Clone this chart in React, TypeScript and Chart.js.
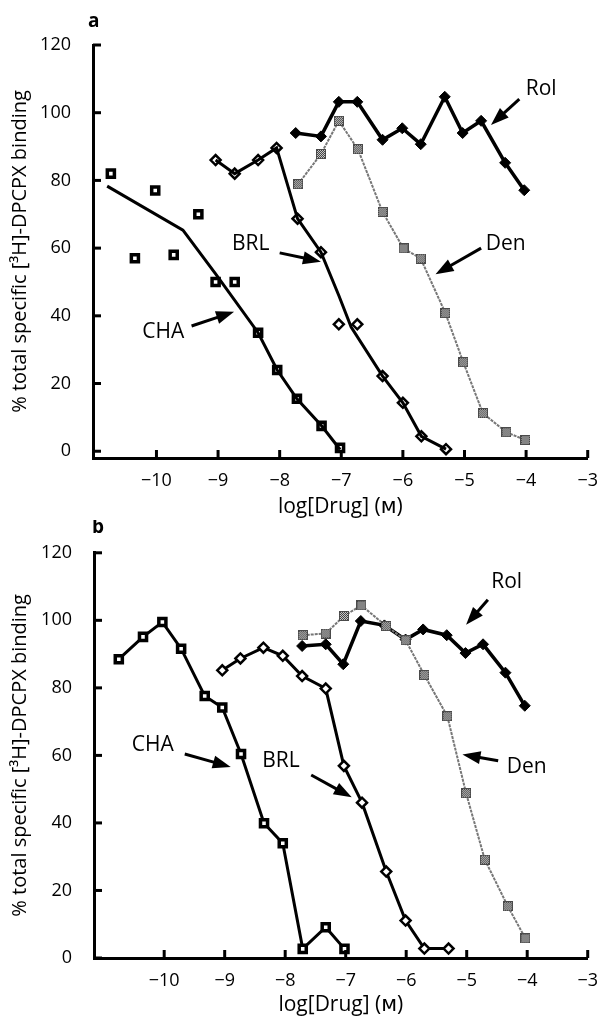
import React, { useEffect, useRef } from "react";
import { Chart, registerables } from "chart.js";

Chart.register(...registerables);

const FONT = "'Open Sans', 'DejaVu Sans', sans-serif";
const X_TICKS = [-10, -9, -8, -7, -6, -5, -4, -3];
const Y_TICKS = [0, 20, 40, 60, 80, 100, 120];
const X_TITLE = "log[Drug] (\u1D0D)";
const Y_TITLE = "% total specific [\u00B3H]-DPCPX binding";

// ---------- Panel a ----------
const A_CHA_X = [-10.74, -10.35, -10.02, -9.72, -9.32, -9.04, -8.73, -8.35, -8.04, -7.72, -7.32, -7.02];
const A_CHA_Y = [82, 57, 77, 58, 70, 50, 50, 35, 24, 15.5, 7.5, 1];
const A_CHA_FIT_X = [-10.8, -9.57, -9.04, -8.35, -8.04, -7.72, -7.32, -7.02];
const A_CHA_FIT_Y = [78.3, 65.3, 52.4, 35, 24, 15.5, 7.5, 0.5];

const A_BRL_X = [-9.04, -8.73, -8.35, -8.05, -7.71, -7.33, -7.04, -6.74, -6.33, -6.0, -5.7, -5.3];
const A_BRL_Y = [86, 82, 86, 89.6, 68.7, 58.8, 37.5, 37.5, 22.2, 14.3, 4.4, 0.6];
const A_BRL_FIT_X = [-9.04, -8.73, -8.35, -8.05, -7.71, -7.33, -7.04, -6.84, -6.33, -6.0, -5.7, -5.3];
const A_BRL_FIT_Y = [86, 82, 86, 89.6, 68.7, 58.8, 46, 36.7, 22.2, 14.3, 4.4, 0.6];

const A_ROL_X = [-7.74, -7.33, -7.04, -6.74, -6.33, -6.01, -5.71, -5.32, -5.03, -4.73, -4.34, -4.03];
const A_ROL_Y = [94, 93, 103.2, 103.2, 92, 95.4, 90.7, 104.7, 94, 97.6, 85.2, 77.1];

const A_DEN_X = [-7.7, -7.33, -7.04, -6.73, -6.33, -5.99, -5.71, -5.31, -5.02, -4.7, -4.32, -4.01];
const A_DEN_Y = [78.9, 87.8, 97.6, 89.2, 70.7, 59.9, 56.9, 40.8, 26.3, 11.2, 5.6, 3.3];

// ---------- Panel b ----------
const B_CHA_X = [-10.75, -10.35, -10.03, -9.72, -9.33, -9.04, -8.73, -8.35, -8.04, -7.71, -7.33, -7.02];
const B_CHA_Y = [88.5, 95.1, 99.5, 91.6, 77.6, 74.2, 60.4, 39.9, 34.0, 2.7, 9.1, 2.7];

const B_BRL_X = [-9.04, -8.74, -8.36, -8.04, -7.72, -7.33, -7.03, -6.73, -6.33, -6.01, -5.7, -5.3];
const B_BRL_Y = [85.2, 88.7, 91.9, 89.5, 83.5, 79.8, 56.9, 46.0, 25.6, 11.1, 2.8, 2.8];

const B_ROL_X = [-7.72, -7.33, -7.04, -6.75, -6.36, -6.01, -5.72, -5.33, -5.02, -4.73, -4.36, -4.04];
const B_ROL_Y = [92.4, 92.9, 87.0, 99.8, 98.5, 94.3, 97.3, 95.6, 90.3, 92.9, 84.5, 74.7];

const B_DEN_X = [-7.71, -7.33, -7.03, -6.74, -6.33, -6.01, -5.7, -5.32, -5.01, -4.7, -4.32, -4.03];
const B_DEN_Y = [95.6, 96.1, 101.3, 104.4, 98.3, 94.1, 83.8, 71.6, 48.8, 29.1, 15.3, 5.8];

// Annotation labels [text, textX, textY, arrowFromX, arrowFromY, arrowTipX, arrowTipY] in data units
const A_NOTES: [string, number, number, number, number, number, number][] = [
  ["Rol", -3.755, 107.0, -4.11, 104.0, -4.57, 96.4],
  ["Den", -4.33, 61.2, -4.73, 60.0, -5.47, 52.3],
  ["BRL", -8.47, 61.2, -8.0, 58.6, -7.33, 56.0],
  ["CHA", -9.89, 35.2, -9.43, 37.0, -8.74, 41.2],
];
const B_NOTES: [string, number, number, number, number, number, number][] = [
  ["Rol", -4.34, 111.4, -4.65, 106.1, -5.01, 98.7],
  ["CHA", -10.19, 63.0, -9.66, 60.4, -8.9, 56.6],
  ["BRL", -8.07, 58.3, -7.57, 54.2, -6.9, 47.6],
  ["Den", -4.01, 56.5, -4.48, 58.4, -5.07, 60.3],
];

const pts = (xs: number[], ys: number[]) => xs.map((x, i) => ({ x, y: ys[i] }));

function makeDenMarker() {
  const c = document.createElement("canvas");
  c.width = 10;
  c.height = 10;
  const g = c.getContext("2d")!;
  g.fillStyle = "#cfcfcf";
  g.fillRect(0, 0, 10, 10);
  g.fillStyle = "#3c3c3c";
  for (let i = 0; i < 10; i++)
    for (let j = 0; j < 10; j++) if ((i + j) % 2 === 0) g.fillRect(i, j, 1, 1);
  g.strokeStyle = "#4a4a4a";
  g.lineWidth = 1;
  g.strokeRect(0.5, 0.5, 9, 9);
  return c;
}

function drawArrow(ctx: CanvasRenderingContext2D, x1: number, y1: number, x2: number, y2: number) {
  const ang = Math.atan2(y2 - y1, x2 - x1);
  const head = 18;
  const hw = 6.5;
  const bx = x2 - head * Math.cos(ang);
  const by = y2 - head * Math.sin(ang);
  ctx.lineWidth = 3;
  ctx.beginPath();
  ctx.moveTo(x1, y1);
  ctx.lineTo(bx + Math.cos(ang) * 2, by + Math.sin(ang) * 2);
  ctx.stroke();
  ctx.beginPath();
  ctx.moveTo(x2, y2);
  ctx.lineTo(bx + hw * Math.sin(ang), by - hw * Math.cos(ang));
  ctx.lineTo(bx - hw * Math.sin(ang), by + hw * Math.cos(ang));
  ctx.closePath();
  ctx.fill();
}

const decorPlugin = {
  id: "decor",
  afterDraw(chart: any, _args: any, opts: any) {
    const { ctx, chartArea } = chart;
    const x = chart.scales.x;
    const y = chart.scales.y;
    ctx.save();
    ctx.strokeStyle = "#000";
    ctx.fillStyle = "#000";
    ctx.lineWidth = 3;
    for (const v of X_TICKS) {
      const px = x.getPixelForValue(v);
      ctx.beginPath();
      ctx.moveTo(px, chartArea.bottom);
      ctx.lineTo(px, chartArea.bottom - 8);
      ctx.stroke();
    }
    for (const v of Y_TICKS) {
      const py = y.getPixelForValue(v);
      ctx.beginPath();
      ctx.moveTo(chartArea.left, py);
      ctx.lineTo(chartArea.left + 8, py);
      ctx.stroke();
    }
    ctx.font = `bold 19px ${FONT}`;
    ctx.textAlign = "left";
    ctx.textBaseline = "alphabetic";
    ctx.fillText(opts.letter, opts.letterX, opts.letterY);
    ctx.font = `21px ${FONT}`;
    ctx.textAlign = "center";
    ctx.textBaseline = "middle";
    for (const n of opts.notes as [string, number, number, number, number, number, number][]) {
      ctx.fillText(n[0], x.getPixelForValue(n[1]), y.getPixelForValue(n[2]));
      drawArrow(
        ctx,
        x.getPixelForValue(n[3]),
        y.getPixelForValue(n[4]),
        x.getPixelForValue(n[5]),
        y.getPixelForValue(n[6])
      );
    }
    ctx.restore();
  },
};

type PanelCfg = {
  padTop: number;
  padRight: number;
  yAxisW: number;
  xAxisH: number;
  xMin: number;
  yMin: number;
  letter: string;
  letterX: number;
  letterY: number;
  notes: any[];
};

function buildOptions(p: PanelCfg): any {
  return {
    animation: false,
    responsive: false,
    maintainAspectRatio: false,
    layout: { padding: { top: p.padTop, right: p.padRight, left: 0, bottom: 0 } },
    plugins: {
      legend: { display: false },
      tooltip: { enabled: false },
      decor: { letter: p.letter, letterX: p.letterX, letterY: p.letterY, notes: p.notes },
    },
    scales: {
      x: {
        type: "linear",
        min: p.xMin,
        max: -3,
        afterBuildTicks: (s: any) => {
          s.ticks = X_TICKS.map((v) => ({ value: v }));
        },
        afterFit: (s: any) => {
          s.height = p.xAxisH;
        },
        grid: { display: false, drawTicks: false },
        border: { display: true, color: "#000", width: 3 },
        ticks: {
          padding: 12,
          color: "#000",
          font: { family: FONT, size: 18 },
          callback: (v: number) => (v < 0 ? "\u2212" + Math.abs(v) : String(v)),
        },
        title: {
          display: true,
          text: X_TITLE,
          color: "#000",
          font: { family: FONT, size: 21 },
          padding: { top: 0, bottom: 0 },
        },
      },
      y: {
        type: "linear",
        min: p.yMin,
        max: 120,
        afterBuildTicks: (s: any) => {
          s.ticks = Y_TICKS.map((v) => ({ value: v }));
        },
        afterFit: (s: any) => {
          s.width = p.yAxisW;
        },
        grid: { display: false, drawTicks: false },
        border: { display: true, color: "#000", width: 3 },
        ticks: {
          padding: 22,
          color: "#000",
          font: { family: FONT, size: 18 },
        },
        title: {
          display: true,
          text: Y_TITLE,
          color: "#000",
          font: { family: FONT, size: 20 },
          padding: { top: 8, bottom: 0 },
        },
      },
    },
  };
}

function chaStyle() {
  return {
    pointStyle: "rect",
    pointRadius: 5,
    pointBorderWidth: 3.5,
    pointBorderColor: "#000",
    pointBackgroundColor: "#fff",
    borderColor: "#000",
    borderWidth: 3,
    clip: false,
  };
}
function brlStyle() {
  return {
    pointStyle: "rectRot",
    pointRadius: 5,
    pointBorderWidth: 2.5,
    pointBorderColor: "#000",
    pointBackgroundColor: "#fff",
    borderColor: "#000",
    borderWidth: 3,
    clip: false,
  };
}
function rolStyle() {
  return {
    pointStyle: "rectRot",
    pointRadius: 5.5,
    pointBorderWidth: 1,
    pointBorderColor: "#000",
    pointBackgroundColor: "#000",
    borderColor: "#000",
    borderWidth: 3.5,
    clip: false,
  };
}
function denStyle(marker: HTMLCanvasElement) {
  return {
    pointStyle: marker,
    pointRadius: 5,
    borderColor: "#777",
    borderWidth: 2,
    borderDash: [3, 1],
    clip: false,
  };
}

export default function App() {
  const refA = useRef<HTMLCanvasElement | null>(null);
  const refB = useRef<HTMLCanvasElement | null>(null);

  useEffect(() => {
    const marker = makeDenMarker();
    const chartA = new Chart(refA.current!, {
      type: "line",
      data: {
        datasets: [
          { ...chaStyle(), data: pts(A_CHA_FIT_X, A_CHA_FIT_Y), pointRadius: 0 },
          { ...chaStyle(), data: pts(A_CHA_X, A_CHA_Y), showLine: false },
          { ...brlStyle(), data: pts(A_BRL_FIT_X, A_BRL_FIT_Y), pointRadius: 0 },
          { ...brlStyle(), data: pts(A_BRL_X, A_BRL_Y), showLine: false },
          { ...denStyle(marker), data: pts(A_DEN_X, A_DEN_Y) },
          { ...rolStyle(), data: pts(A_ROL_X, A_ROL_Y) },
        ] as any,
      },
      options: buildOptions({
        padTop: 45,
        padRight: 17,
        yAxisW: 93,
        xAxisH: 62,
        xMin: -11.03,
        yMin: -2,
        letter: "a",
        letterX: 88,
        letterY: 27,
        notes: A_NOTES,
      }),
      plugins: [decorPlugin as any],
    });
    const chartB = new Chart(refB.current!, {
      type: "line",
      data: {
        datasets: [
          { ...chaStyle(), data: pts(B_CHA_X, B_CHA_Y) },
          { ...brlStyle(), data: pts(B_BRL_X, B_BRL_Y) },
          { ...denStyle(marker), data: pts(B_DEN_X, B_DEN_Y) },
          { ...rolStyle(), data: pts(B_ROL_X, B_ROL_Y) },
        ] as any,
      },
      options: buildOptions({
        padTop: 32,
        padRight: 7,
        yAxisW: 94,
        xAxisH: 60,
        xMin: -11.16,
        yMin: 0,
        letter: "b",
        letterX: 92,
        letterY: 13,
        notes: B_NOTES,
      }),
      plugins: [decorPlugin as any],
    });
    return () => {
      chartA.destroy();
      chartB.destroy();
    };
  }, []);

  return (
    <div style={{ position: "absolute", left: 0, top: 0, width: 610, height: 1018, background: "#fff" }}>
      <canvas ref={refA} width={610} height={520} style={{ display: "block", width: 610, height: 520 }} />
      <canvas ref={refB} width={610} height={498} style={{ display: "block", width: 610, height: 498 }} />
    </div>
  );
}
